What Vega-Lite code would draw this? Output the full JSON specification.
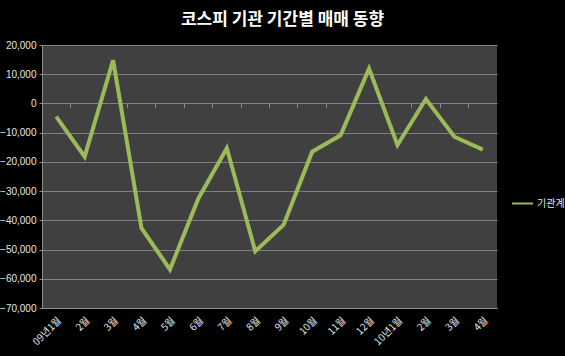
{
  "$schema": "https://vega.github.io/schema/vega-lite/v6.json",
  "width": 455,
  "height": 263,
  "autosize": {"type": "none"},
  "padding": {"left": 42, "top": 45, "right": 68, "bottom": 48},
  "background": "#000000",
  "title": {
    "text": "코스피 기관 기간별 매매 동향",
    "font": "Noto Sans CJK KR",
    "fontSize": 17,
    "fontWeight": "bold",
    "color": "#ffffff",
    "anchor": "middle",
    "dx": 13,
    "offset": 11
  },
  "data": {
    "values": [
      {"month": "09년1월", "series": "기관계", "value": -4500},
      {"month": "2월 ", "series": "기관계", "value": -18200},
      {"month": "3월 ", "series": "기관계", "value": 14800},
      {"month": "4월 ", "series": "기관계", "value": -42700},
      {"month": "5월", "series": "기관계", "value": -56800},
      {"month": "6월", "series": "기관계", "value": -32500},
      {"month": "7월", "series": "기관계", "value": -15300},
      {"month": "8월", "series": "기관계", "value": -50600},
      {"month": "9월", "series": "기관계", "value": -41500},
      {"month": "10월", "series": "기관계", "value": -16500},
      {"month": "11월", "series": "기관계", "value": -10900},
      {"month": "12월", "series": "기관계", "value": 11900},
      {"month": "10년1월", "series": "기관계", "value": -14200},
      {"month": "2월", "series": "기관계", "value": 1500},
      {"month": "3월", "series": "기관계", "value": -11400},
      {"month": "4월", "series": "기관계", "value": -15800}
    ]
  },
  "layer": [
    {
      "mark": {"type": "line", "color": "#9BBB59", "strokeWidth": 4},
      "encoding": {
        "x": {
          "field": "month",
          "type": "nominal",
          "sort": null,
          "scale": {"type": "band", "paddingInner": 0, "paddingOuter": 0},
          "axis": {
            "orient": "bottom",
            "title": null,
            "labelAngle": -45,
            "labelColor": "#e6e6e6",
            "labelFont": "Noto Sans CJK KR",
            "labelFontSize": 10,
            "ticks": false,
            "grid": false,
            "domainColor": "#8c8c8c",
            "labelPadding": 7
          }
        },
        "y": {
          "field": "value",
          "type": "quantitative",
          "scale": {"domain": [-70000, 20000], "nice": false},
          "axis": {
            "title": null,
            "values": [-70000, -60000, -50000, -40000, -30000, -20000, -10000, 0, 10000, 20000],
            "format": ",.0f",
            "labelOverlap": false,
            "labelColor": "#e6e6e6",
            "labelFont": "Liberation Sans",
            "labelFontSize": 10,
            "tickSize": 3,
            "tickColor": "#8c8c8c",
            "domainColor": "#8c8c8c",
            "gridColor": "#808080",
            "gridWidth": 1,
            "labelPadding": 3
          }
        },
        "color": {
          "field": "series",
          "type": "nominal",
          "scale": {"range": ["#9BBB59"]},
          "legend": {
            "title": null,
            "orient": "none",
            "legendX": 469,
            "legendY": 147,
            "symbolType": "stroke",
            "symbolSize": 441,
            "symbolStrokeWidth": 2,
            "labelColor": "#e6e6e6",
            "labelFont": "Noto Sans CJK KR",
            "labelFontSize": 10,
            "labelOffset": 3
          }
        }
      }
    },
    {
      "mark": {"type": "line", "opacity": 0},
      "encoding": {
        "x": {
          "field": "month",
          "type": "nominal",
          "sort": null,
          "scale": {"type": "band", "paddingInner": 0, "paddingOuter": 0},
          "axis": {
            "orient": "bottom",
            "offset": -204.6,
            "labels": false,
            "title": null,
            "domain": false,
            "grid": false,
            "ticks": true,
            "bandPosition": 0,
            "tickSize": 4,
            "tickColor": "#8c8c8c"
          }
        },
        "y": {
          "field": "value",
          "type": "quantitative",
          "scale": {"domain": [-70000, 20000], "nice": false},
          "axis": {
            "title": null,
            "values": [-70000, -60000, -50000, -40000, -30000, -20000, -10000, 0, 10000, 20000],
            "format": ",.0f",
            "labelOverlap": false,
            "labelColor": "#e6e6e6",
            "labelFont": "Liberation Sans",
            "labelFontSize": 10,
            "tickSize": 3,
            "tickColor": "#8c8c8c",
            "domainColor": "#8c8c8c",
            "gridColor": "#808080",
            "gridWidth": 1,
            "labelPadding": 3
          }
        }
      }
    }
  ],
  "resolve": {"axis": {"x": "independent"}},
  "config": {
    "view": {"fill": "#404040", "stroke": null}
  }
}
